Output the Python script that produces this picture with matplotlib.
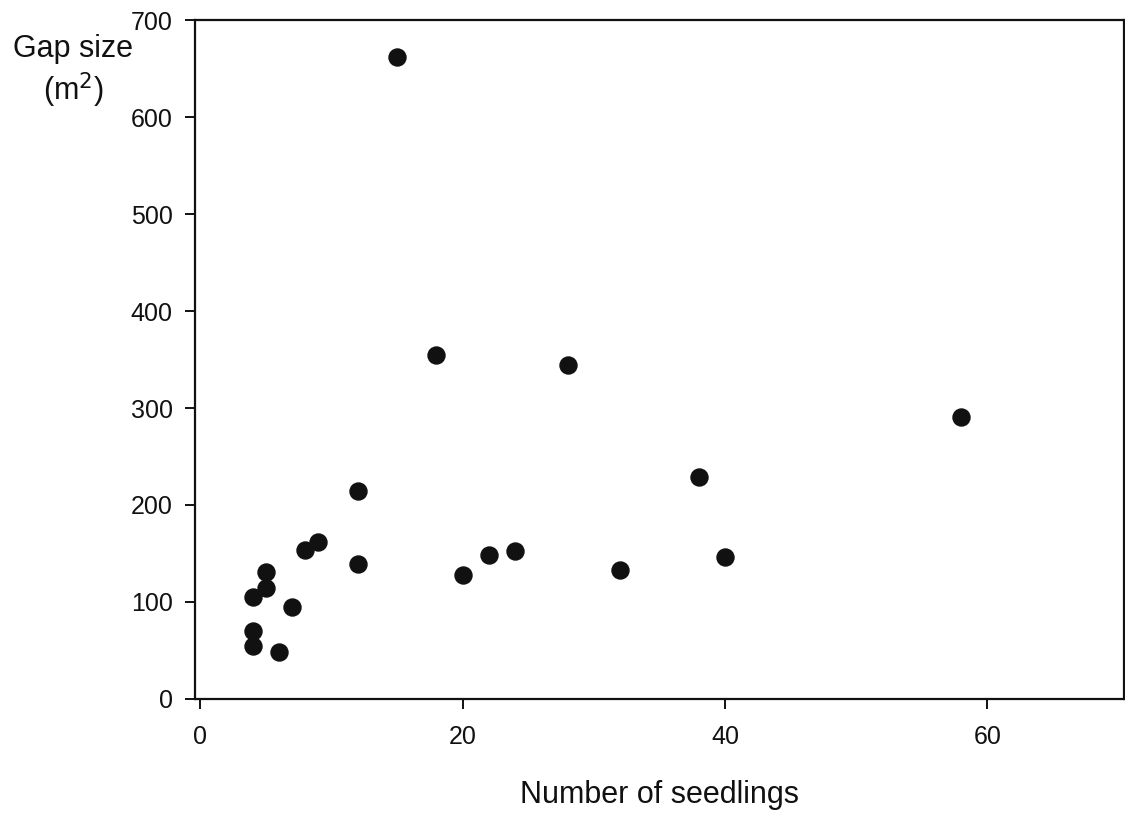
import numpy as np
import matplotlib.pyplot as plt

plt.rcParams['font.family'] = ['Liberation Sans', 'DejaVu Sans']

# 苗の数とギャップ面積
seedlings = [15, 18, 28, 58, 12, 38, 9, 8, 12, 22, 24, 20, 32, 40, 5, 5, 4, 7, 4, 4, 6]
gap_size = [662, 355, 344, 291, 214, 229, 162, 154, 139, 148, 153, 128, 133, 146,
            131, 114, 105, 95, 70, 55, 48]

fig = plt.figure(figsize=(11.25, 8.14), dpi=100)
ax = fig.add_axes([0.1733, 0.1413, 0.8257, 0.8341])

ax.scatter(seedlings, gap_size, s=150, color='#111111', zorder=3)

ax.set_xlim(-0.4, 70.4)
ax.set_ylim(0, 700)
ax.set_xticks([0, 20, 40, 60])
ax.set_yticks(np.arange(0, 701, 100))

for sp in ax.spines.values():
    sp.set_linewidth(1.6)
    sp.set_color('#111111')

ax.tick_params(axis='both', direction='out', length=7, width=1.4,
               labelsize=18, colors='#111111')
ax.tick_params(axis='x', pad=12)
ax.tick_params(axis='y', pad=9)

ax.set_xlabel("Number of seedlings", fontsize=22, labelpad=22, color='#111111')
fig.text(73 / 1125, 1 - 72 / 814, "Gap size\n(m$^2$)", fontsize=22,
         ha='center', va='center', linespacing=1.25, color='#111111')

plt.savefig("out.png", dpi=100)
